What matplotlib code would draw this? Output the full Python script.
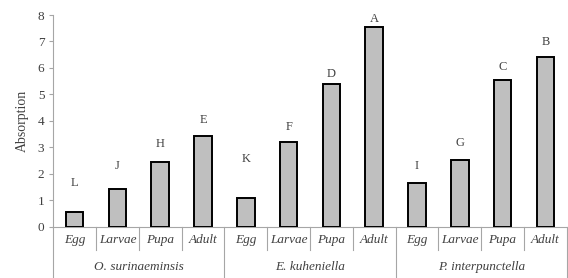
import numpy as np
import matplotlib.pyplot as plt
import matplotlib.transforms as mtransforms

plt.rcParams['font.family'] = ['Liberation Serif', 'DejaVu Serif']

species = ['O. surinaeminsis', 'E. kuheniella', 'P. interpunctella']
stages = ['Egg', 'Larvae', 'Pupa', 'Adult']
absorption = [0.57, 1.41, 2.46, 3.43,
              1.07, 3.21, 5.38, 7.54,
              1.66, 2.52, 5.54, 6.43]
letters = ['L', 'J', 'H', 'E', 'K', 'F', 'D', 'A', 'I', 'G', 'C', 'B']
letter_y = [1.64, 2.31, 3.13, 4.03, 2.55, 3.78, 5.77, 7.85, 2.31, 3.17, 6.05, 6.99]

fig = plt.figure(figsize=(5.68, 2.78), dpi=100)
ax = fig.add_axes([0.0938, 0.1845, 0.904, 0.7615])
x = np.arange(len(absorption))
ax.bar(x, absorption, 0.41, color='#bfbfbf', edgecolor='black', linewidth=1.4, zorder=3)
for xi, lab, ly in zip(x, letters, letter_y):
    ax.text(xi, ly, lab, ha='center', va='center', fontsize=9, color='#404040')

ax.set_xlim(-0.5, len(absorption) - 0.5)
ax.set_ylim(0, 8)
ax.set_yticks(range(0, 9))
ax.tick_params(axis='y', labelsize=9.5, colors='#404040', length=3, width=0.8)
ax.tick_params(axis='y', color='#a6a6a6')
ax.set_ylabel('Absorption', fontsize=10, color='#404040', labelpad=6)

ax.set_xticks(x)
ax.set_xticklabels(stages * 3, fontstyle='italic', fontsize=9.5, color='#404040')
ax.tick_params(axis='x', length=0, pad=5)

for s in ['top', 'right']:
    ax.spines[s].set_visible(False)
ax.spines['bottom'].set_color('#a6a6a6')
ax.spines['left'].set_color('#a6a6a6')

# separators below the axis
trans = mtransforms.blended_transform_factory(ax.transData, ax.transAxes)
for i in range(len(absorption) + 1):
    xb = i - 0.5
    if i % 4 == 0:
        ax.plot([xb, xb], [0, -0.245], color='#a6a6a6', lw=0.8, transform=trans, clip_on=False)
    else:
        ax.plot([xb, xb], [0, -0.11], color='#a6a6a6', lw=0.8, transform=trans, clip_on=False)

for g, name in enumerate(species):
    ax.text(g * 4 + 1.5, -0.19, name, transform=trans, ha='center', va='center',
            fontstyle='italic', fontsize=9.5, color='#404040')

fig.savefig('out.png', dpi=100)
